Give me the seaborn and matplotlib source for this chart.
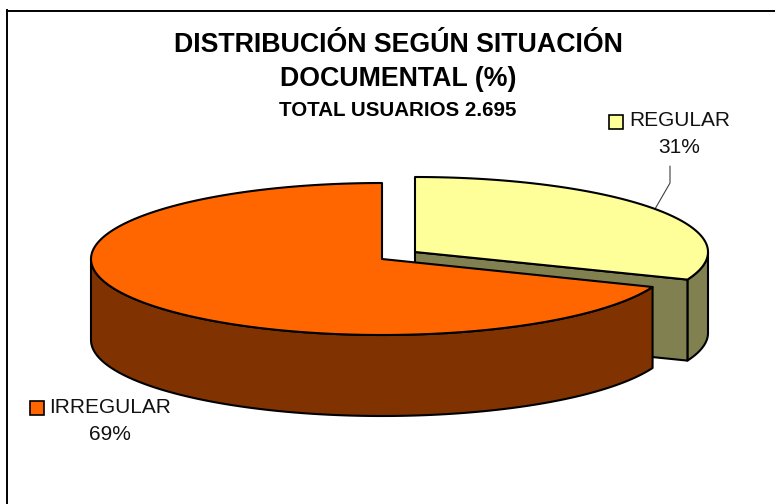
import numpy as np
import matplotlib
matplotlib.use("Agg")
import matplotlib.pyplot as plt
import seaborn as sns

# datos del grafico
categorias = ["REGULAR", "IRREGULAR"]
porcentajes = [31, 69]
titulo = "DISTRIBUCIÓN SEGÚN SITUACIÓN\nDOCUMENTAL (%)"
subtitulo = "TOTAL USUARIOS 2.695"

sns.set_theme(style="white")
plt.rcParams["font.family"] = ["Liberation Sans", "DejaVu Sans"]

colores_top = sns.color_palette(["#FFFF99", "#FF6600"])
colores_lado = sns.color_palette(["#808050", "#803300"])

# el eje va en pixeles de la imagen
fig = plt.figure(figsize=(7.75, 5.04), dpi=100, facecolor="white")
ax = fig.add_axes([7 / 775, 0, 768 / 775, 493.5 / 504])
ax.set_xlim(7, 775)
ax.set_ylim(504, 10.5)
ax.set_xticks([])
ax.set_yticks([])
sns.despine(ax=ax, top=False, right=True, bottom=True, left=False)
for lado in ["top", "left"]:
    ax.spines[lado].set_color("black")
    ax.spines[lado].set_linewidth(1.4)

ALTO = 81
LW = 1.5


def borde(cx, cy, a, b, t0, t1):
    t = np.radians(np.linspace(t0, t1, 200))
    return cx + a * np.cos(t), cy - b * np.sin(t)


def cara(x, y, color, z):
    ax.fill(x, y, facecolor=color, edgecolor="black", linewidth=LW, joinstyle="round", zorder=z)


# angulos de cada porcion, en sentido horario desde las 12
fin_reg = 90 - 360 * porcentajes[0] / sum(porcentajes)
fin_irr = fin_reg - 360 * porcentajes[1] / sum(porcentajes)

# porcion REGULAR (separada)
cx, cy, a, b = 415, 252, 293, 75
xb, yb = borde(cx, cy, a, b, fin_reg, 0)
cara(np.r_[xb, xb[::-1]], np.r_[yb, yb[::-1] + ALTO], colores_lado[0], 1)
cara([cx, xb[0], xb[0], cx], [cy, yb[0], yb[0] + ALTO, cy + ALTO], colores_lado[0], 1)
xt, yt = borde(cx, cy, a, b, 90, fin_reg)
cara(np.r_[cx, xt], np.r_[cy, yt], colores_top[0], 2)

# porcion IRREGULAR
cx, cy, a, b = 382, 259, 291, 76
xb, yb = borde(cx, cy, a, b, fin_reg, -180)
cara(np.r_[xb, xb[::-1]], np.r_[yb, yb[::-1] + ALTO], colores_lado[1], 3)
xt, yt = borde(cx, cy, a, b, fin_reg, fin_irr)
cara(np.r_[cx, xt], np.r_[cy, yt], colores_top[1], 4)

# titulos
ax.text(398, 62.5, titulo, ha="center", va="center", fontsize=19.3, fontweight="bold",
        color="black", linespacing=1.4)
ax.text(398, 111, subtitulo, ha="center", va="center", fontsize=14.8, fontweight="bold",
        color="black")

# etiquetas
ax.plot([670, 670, 655], [166, 183, 209], color="#404040", lw=0.8, zorder=1)
ax.text(680, 121, categorias[0], ha="center", va="center", fontsize=15, color="#111111")
ax.text(679, 148, f"{porcentajes[0]}%", ha="center", va="center", fontsize=15, color="#111111")
ax.add_patch(plt.Rectangle((609, 115), 14, 14, facecolor=colores_top[0], edgecolor="black", lw=1.2))

ax.text(110, 408, categorias[1], ha="center", va="center", fontsize=15, color="#111111")
ax.text(110, 435, f"{porcentajes[1]}%", ha="center", va="center", fontsize=15, color="#111111")
ax.add_patch(plt.Rectangle((30, 401), 14, 14, facecolor=colores_top[1], edgecolor="black", lw=1.2))

fig.savefig("out.png", dpi=100)
